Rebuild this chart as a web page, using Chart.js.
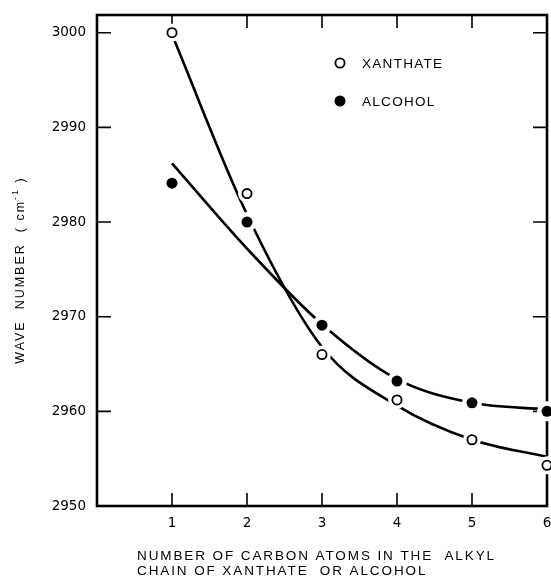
<!DOCTYPE html>
<html>
<head>
<meta charset="utf-8">
<script src="https://cdn.jsdelivr.net/npm/chart.js@4.4.0/dist/chart.umd.min.js"></script>
<style>
  html, body { margin: 0; padding: 0; background: #fff; }
  #wrap { width: 551px; height: 583px; }
</style>
</head>
<body>
<div id="wrap"><canvas id="chartWave" width="551" height="583"></canvas></div>
<script>
// measured points
const carbonAtoms = [1, 2, 3, 4, 5, 6];
const xanthateWave = [3000, 2983, 2966, 2961.2, 2957, 2954.3];
const alcoholWave = [2984.1, 2980, 2969.1, 2963.2, 2960.9, 2960];
const xanthateCurve = [2999.8, 2980.8, 2966.8, 2960.6, 2957.0, 2955.2];
const alcoholCurve = [2986.2, 2977.2, 2969.2, 2963.4, 2960.9, 2960.2];
const xTicks = [1, 2, 3, 4, 5, 6];
const yTicks = [2950, 2960, 2970, 2980, 2990, 3000];
const seriesNames = ['XANTHATE', 'ALCOHOL'];
const xTitle = ['NUMBER OF CARBON ATOMS IN THE  ALKYL', 'CHAIN OF XANTHATE  OR ALCOHOL'];

const FONT = "'Liberation Sans', Arial, sans-serif";

function toPoints(values) {
    return carbonAtoms.map((c, i) => ({ x: c, y: values[i] }));
}

// frame, inward ticks, titles and legend
const framePlugin = {
    id: 'framePlugin',
    beforeDatasetsDraw(chart) {
        const ctx = chart.ctx;
        const a = chart.chartArea;
        const xs = chart.scales.x;
        const ys = chart.scales.y;
        ctx.save();
        ctx.strokeStyle = '#000';
        ctx.lineWidth = 1.6;
        ctx.beginPath();
        xTicks.forEach(v => {
            if (v >= xs.max) return;
            const px = xs.getPixelForValue(v);
            ctx.moveTo(px, a.bottom); ctx.lineTo(px, a.bottom - 13);
            ctx.moveTo(px, a.top); ctx.lineTo(px, a.top + 13);
        });
        yTicks.forEach(v => {
            if (v <= ys.min) return;
            const py = ys.getPixelForValue(v);
            ctx.moveTo(a.left, py); ctx.lineTo(a.left + 14, py);
            ctx.moveTo(a.right, py); ctx.lineTo(a.right - 14, py);
        });
        ctx.stroke();
        ctx.lineWidth = 2.6;
        ctx.strokeRect(a.left, a.top, a.right - a.left, a.bottom - a.top);
        ctx.restore();
    },
    afterDraw(chart) {
        const ctx = chart.ctx;
        const a = chart.chartArea;
        ctx.save();
        ctx.fillStyle = '#000';
        ctx.textBaseline = 'middle';

        // legend
        ctx.font = '13.5px ' + FONT;
        ctx.letterSpacing = '1.3px';
        ctx.textAlign = 'left';
        const lx = a.left + 243;
        const ly = [a.top + 48, a.top + 86];
        ctx.beginPath();
        ctx.arc(lx, ly[0], 4.6, 0, Math.PI * 2);
        ctx.lineWidth = 1.8;
        ctx.strokeStyle = '#000';
        ctx.fillStyle = '#fff';
        ctx.fill();
        ctx.stroke();
        ctx.fillStyle = '#000';
        ctx.beginPath();
        ctx.arc(lx, ly[1], 5.5, 0, Math.PI * 2);
        ctx.fill();
        ctx.fillText(seriesNames[0], lx + 22, ly[0] + 1);
        ctx.fillText(seriesNames[1], lx + 22, ly[1] + 1);

        // x axis title, left aligned block
        ctx.font = '13.5px ' + FONT;
        ctx.letterSpacing = '1.9px';
        ctx.fillText(xTitle[0], a.left + 40, a.bottom + 50);
        ctx.fillText(xTitle[1], a.left + 40, a.bottom + 65);

        // y axis title with superscript
        ctx.translate(20.7, a.top + 255);
        ctx.rotate(-Math.PI / 2);
        ctx.letterSpacing = '2px';
        const parts = [
            { t: 'WAVE  NUMBER  ( cm', f: '12.5px ' + FONT, dy: 0 },
            { t: '-1', f: '9px ' + FONT, dy: -5 },
            { t: ' )', f: '12.5px ' + FONT, dy: 0 }
        ];
        let total = 0;
        parts.forEach(p => { ctx.font = p.f; p.w = ctx.measureText(p.t).width; total += p.w; });
        let px = -total / 2;
        parts.forEach(p => {
            ctx.font = p.f;
            ctx.fillText(p.t, px, p.dy);
            px += p.w;
        });
        ctx.restore();
    }
};

function noPadding(s) {
    s.paddingLeft = 0; s.paddingRight = 0; s.paddingTop = 0; s.paddingBottom = 0;
}

const ctx1 = document.getElementById('chartWave').getContext('2d');
const waveChart = new Chart(ctx1, {
    type: 'scatter',
    data: {
        datasets: [
            {
                label: seriesNames[0] + ' markers',
                data: toPoints(xanthateWave),
                pointRadius: 4.6,
                pointBackgroundColor: '#fff',
                pointBorderColor: '#000',
                pointBorderWidth: 1.8,
                showLine: false,
                clip: false,
                order: 1
            },
            {
                label: seriesNames[1] + ' markers',
                data: toPoints(alcoholWave),
                pointRadius: 5.5,
                pointBackgroundColor: '#000',
                pointBorderColor: '#000',
                pointBorderWidth: 0,
                showLine: false,
                clip: false,
                order: 1
            },
            {
                // white gaps cut into the curves round each marker
                label: 'gaps xanthate',
                data: toPoints(xanthateWave),
                pointRadius: 9,
                pointBackgroundColor: '#fff',
                pointBorderColor: '#fff',
                pointBorderWidth: 0,
                showLine: false,
                clip: false,
                order: 2
            },
            {
                label: 'gaps alcohol',
                data: toPoints(alcoholWave),
                pointRadius: 10,
                pointBackgroundColor: '#fff',
                pointBorderColor: '#fff',
                pointBorderWidth: 0,
                showLine: false,
                clip: false,
                order: 2
            },
            {
                label: seriesNames[0],
                data: toPoints(xanthateCurve),
                showLine: true,
                borderColor: '#000',
                borderWidth: 2.6,
                pointRadius: 0,
                cubicInterpolationMode: 'monotone',
                order: 4
            },
            {
                label: seriesNames[1],
                data: toPoints(alcoholCurve),
                showLine: true,
                borderColor: '#000',
                borderWidth: 2.6,
                pointRadius: 0,
                cubicInterpolationMode: 'monotone',
                order: 4
            }
        ]
    },
    options: {
        responsive: false,
        animation: false,
        events: [],
        layout: { autoPadding: false, padding: { top: 15, right: 4, left: 0, bottom: 0 } },
        plugins: {
            legend: { display: false },
            tooltip: { enabled: false }
        },
        scales: {
            x: {
                type: 'linear',
                min: 0,
                max: 6,
                grid: { display: false },
                border: { display: false },
                afterBuildTicks: s => { s.ticks = xTicks.map(v => ({ value: v })); },
                afterFit: s => { s.height = 77; noPadding(s); },
                ticks: {
                    autoSkip: false,
                    maxRotation: 0,
                    padding: 1,
                    color: '#000',
                    callback: v => String(v),
                    font: { family: "'DejaVu Sans'", size: 13.5 }
                }
            },
            y: {
                type: 'linear',
                min: 2950,
                max: 3001.87,
                grid: { display: false },
                border: { display: false },
                afterBuildTicks: s => { s.ticks = yTicks.map(v => ({ value: v })); },
                afterFit: s => { s.width = 97; noPadding(s); },
                ticks: {
                    autoSkip: false,
                    padding: 3,
                    color: '#000',
                    callback: v => String(v),
                    font: { family: "'DejaVu Sans'", size: 13.5 }
                }
            }
        }
    },
    plugins: [framePlugin]
});
</script>
</body>
</html>
